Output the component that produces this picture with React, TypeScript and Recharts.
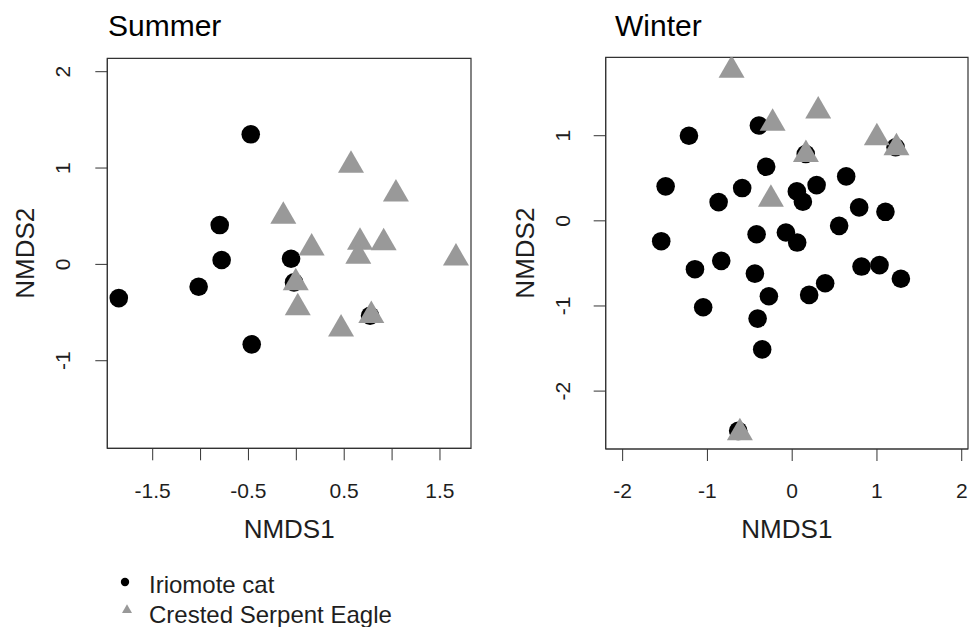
import React from 'react';
import { ScatterChart, Scatter, XAxis, YAxis, ReferenceArea } from 'recharts';

const FONT = '"Liberation Sans", Arial, sans-serif';

// Summer panel
const summerCat = [
  { x: -0.476, y: 1.35 }, { x: -0.8, y: 0.408 }, { x: -0.78, y: 0.045 },
  { x: -1.02, y: -0.232 }, { x: -1.854, y: -0.35 }, { x: -0.055, y: 0.058 },
  { x: -0.024, y: -0.187 }, { x: -0.466, y: -0.83 }, { x: 0.77, y: -0.533 },
];
const summerEagle = [
  { x: 0.571, y: 1.03 }, { x: 1.04, y: 0.73 }, { x: -0.136, y: 0.5 },
  { x: 0.16, y: 0.17 }, { x: 0.665, y: 0.23 }, { x: 0.912, y: 0.225 },
  { x: 0.647, y: 0.085 }, { x: 1.667, y: 0.065 }, { x: -0.006, y: -0.19 },
  { x: 0.015, y: -0.45 }, { x: 0.467, y: -0.67 }, { x: 0.783, y: -0.53 },
];

// Winter panel
const winterCat = [
  { x: -1.218, y: 1.0 }, { x: -0.393, y: 1.12 }, { x: -1.493, y: 0.405 },
  { x: -0.307, y: 0.635 }, { x: -0.59, y: 0.385 }, { x: -0.868, y: 0.22 },
  { x: 0.055, y: 0.346 }, { x: 0.126, y: 0.224 }, { x: 0.288, y: 0.42 },
  { x: 0.637, y: 0.522 }, { x: 0.79, y: 0.158 }, { x: 1.1, y: 0.106 },
  { x: 0.554, y: -0.059 }, { x: -1.545, y: -0.239 }, { x: -0.42, y: -0.157 },
  { x: -0.074, y: -0.137 }, { x: 0.059, y: -0.255 }, { x: -1.147, y: -0.568 },
  { x: -0.837, y: -0.47 }, { x: -0.44, y: -0.62 }, { x: 0.818, y: -0.537 },
  { x: 1.03, y: -0.52 }, { x: 1.282, y: -0.68 }, { x: 0.389, y: -0.733 },
  { x: 0.2, y: -0.87 }, { x: -0.275, y: -0.886 }, { x: -1.05, y: -1.015 },
  { x: -0.408, y: -1.148 }, { x: -0.354, y: -1.51 }, { x: 0.16, y: 0.785 },
  { x: 1.22, y: 0.864 }, { x: -0.637, y: -2.467 },
];
const winterEagle = [
  { x: -0.715, y: 1.77 }, { x: -0.231, y: 1.145 }, { x: 0.307, y: 1.29 },
  { x: 0.999, y: 0.975 }, { x: 1.23, y: 0.86 }, { x: 0.162, y: 0.78 },
  { x: -0.251, y: 0.255 }, { x: -0.617, y: -2.49 },
];

const summerXTicks = [-1.5, -1, -0.5, 0, 0.5, 1, 1.5];
const summerXLabels = ['-1.5', '', '-0.5', '', '0.5', '', '1.5'];
const summerYTicks = [-1, 0, 1, 2];
const winterXTicks = [-2, -1, 0, 1, 2];
const winterYTicks = [-2, -1, 0, 1];

const seriesNames = ['Iriomote cat', 'Crested Serpent Eagle'];
const panelTitles = ['Summer', 'Winter'];
const axisTitles = ['NMDS1', 'NMDS2'];

const CAT_COLOR = '#000000';
const EAGLE_COLOR = '#999999';
const LINE = '#333333';
const TEXT = '#1e1e1e';

const CatShape = (p: any) => <circle cx={p.cx} cy={p.cy} r={9.3} fill={CAT_COLOR} />;
const EagleShape = (p: any) => {
  const r = 15;
  const hw = (r * Math.sqrt(3)) / 2;
  const d = `M${p.cx},${p.cy - r} L${p.cx + hw},${p.cy + r / 2} L${p.cx - hw},${p.cy + r / 2} Z`;
  return <path d={d} fill={EAGLE_COLOR} />;
};

const makeXTick = (labels: Record<string, string> | null, baseY: number) => (props: any) => {
  const v = props.payload.value;
  const txt = labels ? labels[String(v)] : String(v);
  if (!txt) return <g />;
  return (
    <text x={props.x} y={baseY} textAnchor="middle" fontSize={21} fontFamily={FONT} fill={TEXT}>
      {txt}
    </text>
  );
};

const makeYTick = (baseX: number) => (props: any) => {
  const v = props.payload.value;
  return (
    <text
      x={baseX}
      y={props.y}
      transform={`rotate(-90, ${baseX}, ${props.y})`}
      textAnchor="middle"
      fontSize={21}
      fontFamily={FONT}
      fill={TEXT}
    >
      {String(v)}
    </text>
  );
};

const summerLabelMap: Record<string, string> = {};
summerXTicks.forEach((t, i) => (summerLabelMap[String(t)] = summerXLabels[i]));

const LegendBlock = () => {
  const hw = 5;
  return (
    <svg
      width={340}
      height={60}
      style={{ position: 'absolute', left: 110, top: 570, overflow: 'visible' }}
    >
      <circle cx={15} cy={12} r={4.2} fill={CAT_COLOR} />
      <text x={39} y={23} fontSize={24} fontFamily={FONT} fill={TEXT}>{seriesNames[0]}</text>
      <path d={`M17,${40 - 5.8} L${17 + hw},${40 + 2.9} L${17 - hw},${40 + 2.9} Z`} fill={EAGLE_COLOR} />
      <text x={39} y={52.7} fontSize={24} fontFamily={FONT} fill={TEXT}>{seriesNames[1]}</text>
    </svg>
  );
};

type PanelProps = {
  left: number;
  width: number;
  box: { l: number; t: number; r: number; b: number };
  xDomain: [number, number];
  yDomain: [number, number];
  xTicks: number[];
  yTicks: number[];
  xLabelMap: Record<string, string> | null;
  cat: { x: number; y: number }[];
  eagle: { x: number; y: number }[];
  title: string;
  titleX: number;
  yTickX: number;
  yLabelX: number;
};

const YAXW = 60;
const XAXH = 60;
const H = 627;

const Panel = (p: PanelProps) => {
  const margin = {
    left: p.box.l - YAXW,
    top: p.box.t,
    right: p.width - p.box.r,
    bottom: H - p.box.b - XAXH,
  };
  const cx = (p.box.l + p.box.r) / 2;
  const cy = (p.box.t + p.box.b) / 2;
  return (
    <div style={{ position: 'absolute', left: p.left, top: 0, width: p.width, height: H }}>
      <ScatterChart width={p.width} height={H} margin={margin}>
        <XAxis
          type="number"
          dataKey="x"
          domain={p.xDomain}
          ticks={p.xTicks}
          allowDataOverflow
          height={XAXH}
          tickSize={12}
          stroke={LINE}
          tickLine={{ stroke: LINE }}
          axisLine={{ stroke: LINE }}
          tick={makeXTick(p.xLabelMap, 497.5)}
          interval={0}
        />
        <YAxis
          type="number"
          dataKey="y"
          domain={p.yDomain}
          ticks={p.yTicks}
          allowDataOverflow
          width={YAXW}
          tickSize={12}
          stroke={LINE}
          tickLine={{ stroke: LINE }}
          axisLine={{ stroke: LINE }}
          tick={makeYTick(p.yTickX)}
          interval={0}
        />
        <ReferenceArea
          x1={p.xDomain[0]}
          x2={p.xDomain[1]}
          y1={p.yDomain[0]}
          y2={p.yDomain[1]}
          fill="none"
          fillOpacity={0}
          stroke={LINE}
          strokeWidth={1.2}
          ifOverflow="visible"
        />
        <Scatter name={seriesNames[0]} data={p.cat} fill={CAT_COLOR} shape={CatShape} isAnimationActive={false} />
        <Scatter name={seriesNames[1]} data={p.eagle} fill={EAGLE_COLOR} shape={EagleShape} isAnimationActive={false} />
        <text x={p.titleX} y={36} fontSize={30} fontFamily={FONT} fill="#000">{p.title}</text>
        <text x={cx} y={537.5} textAnchor="middle" fontSize={26} fontFamily={FONT} fill={TEXT}>{axisTitles[0]}</text>
        <text
          x={p.yLabelX}
          y={cy}
          transform={`rotate(-90, ${p.yLabelX}, ${cy})`}
          textAnchor="middle"
          fontSize={26}
          fontFamily={FONT}
          fill={TEXT}
        >
          {axisTitles[1]}
        </text>
      </ScatterChart>
    </div>
  );
};

export default function App() {
  return (
    <div style={{ position: 'absolute', left: 0, top: 0, width: 969, height: 627, background: '#fff', overflow: 'hidden' }}>
      <Panel
        left={0}
        width={490}
        box={{ l: 107.3, t: 58.3, r: 471, b: 448.3 }}
        xDomain={[-1.974, 1.824]}
        yDomain={[-1.909, 2.139]}
        xTicks={summerXTicks}
        yTicks={summerYTicks}
        xLabelMap={summerLabelMap}
        cat={summerCat}
        eagle={summerEagle}
        title={panelTitles[0]}
        titleX={108}
        yTickX={70.5}
        yLabelX={34.5}
      />
      <Panel
        left={490}
        width={479}
        box={{ l: 115.7, t: 57.3, r: 478, b: 449 }}
        xDomain={[-2.2, 2.074]}
        yDomain={[-2.68, 1.921]}
        xTicks={winterXTicks}
        yTicks={winterYTicks}
        xLabelMap={null}
        cat={winterCat}
        eagle={winterEagle}
        title={panelTitles[1]}
        titleX={125}
        yTickX={80.5}
        yLabelX={44.5}
      />
      <LegendBlock />
    </div>
  );
}
